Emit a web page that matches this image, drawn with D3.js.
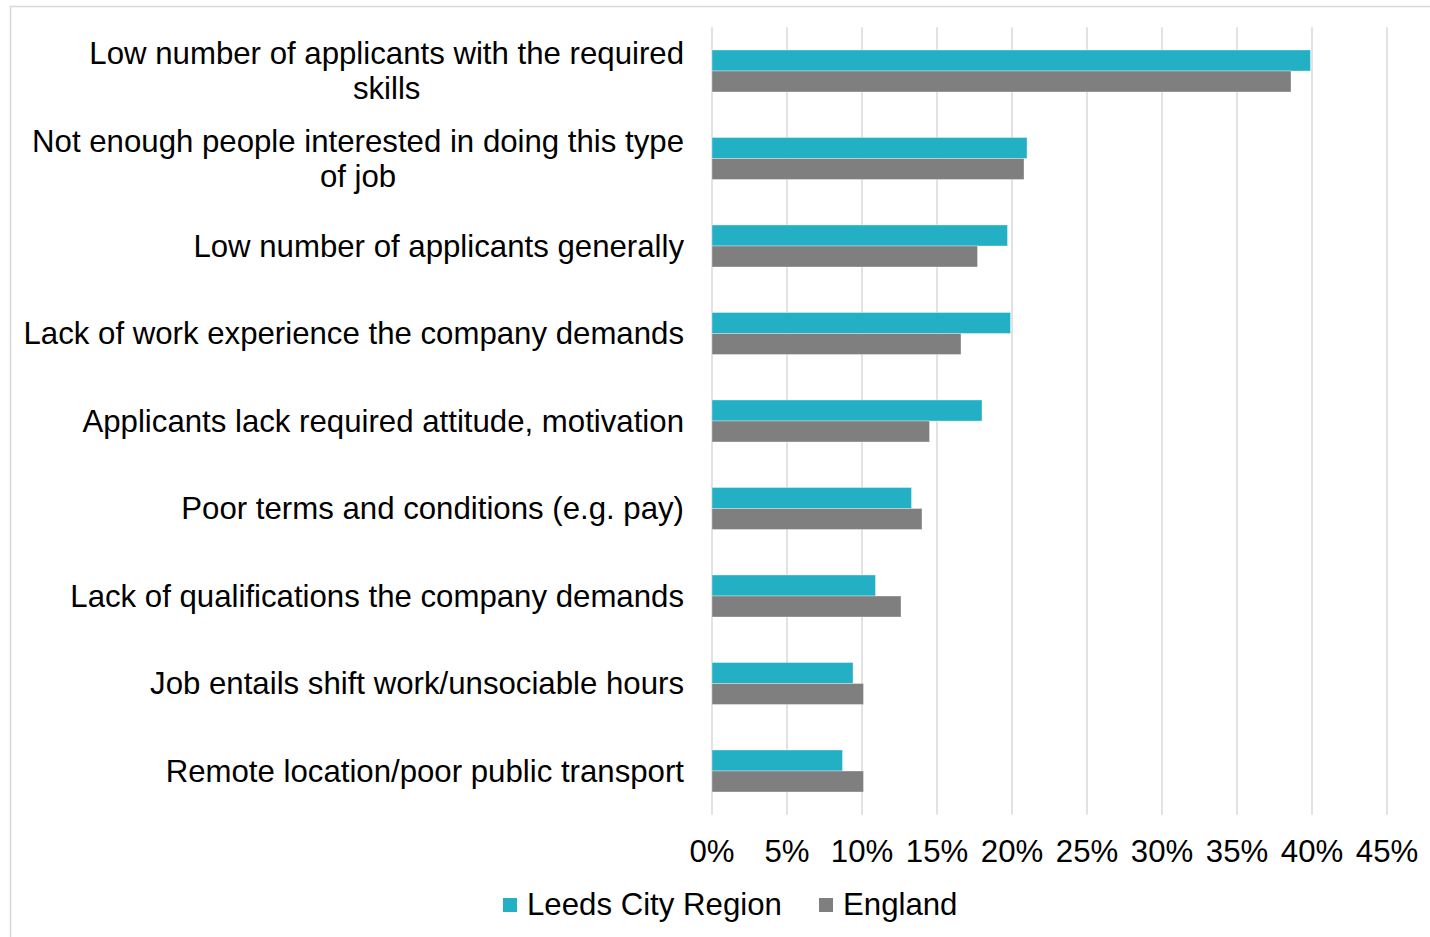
<!DOCTYPE html>
<html><head><meta charset="utf-8">
<script src="https://cdn.jsdelivr.net/npm/d3@7"></script>
<style>body{margin:0;background:#fff;} text{font-family:"Liberation Sans",Arial,sans-serif;}</style>
</head><body>
<svg id="c" width="1430" height="937"></svg>
<script>
const categories = [
  ["Low number of applicants with the required", "skills"],
  ["Not enough people interested in doing this type", "of job"],
  ["Low number of applicants generally"],
  ["Lack of work experience the company demands"],
  ["Applicants lack required attitude, motivation"],
  ["Poor terms and conditions (e.g. pay)"],
  ["Lack of qualifications the company demands"],
  ["Job entails shift work/unsociable hours"],
  ["Remote location/poor public transport"]
];
const seriesNames = ["Leeds City Region", "England"];
const leeds = [39.9, 21.0, 19.7, 19.9, 18.0, 13.3, 10.9, 9.4, 8.7];
const england = [38.6, 20.8, 17.7, 16.6, 14.5, 14.0, 12.6, 10.1, 10.1];
const ticks = [0, 5, 10, 15, 20, 25, 30, 35, 40, 45];
const colors = ["#23B0C5", "#7F7F7F"];

const FS = 31.2;
const svg = d3.select("#c");
svg.append("rect").attr("x",10.5).attr("y",6.5).attr("width",1440).attr("height",960)
  .attr("fill","#fff").attr("stroke","#d9d9d9").attr("stroke-width",1.5);

const x = d3.scaleLinear().domain([0,45]).range([712,1387]);
const y = d3.scaleBand().domain(d3.range(categories.length)).range([27.25,814.75]).paddingInner(0.52).paddingOuter(0.26);
const inner = d3.scaleBand().domain([0,1]).range([0,y.bandwidth()]);

// gridlines
svg.append("g").selectAll("line").data(ticks).join("line")
  .attr("x1",d=>x(d)).attr("x2",d=>x(d)).attr("y1",27.25).attr("y2",814.75)
  .attr("stroke","#d9d9d9").attr("stroke-width",1.5);

const series = [leeds, england];
series.forEach((vals, si) => {
  svg.append("g").selectAll("rect").data(vals).join("rect")
    .attr("x", x(0)).attr("y",(d,i)=>y(i)+inner(si))
    .attr("width",d=>x(d)-x(0)).attr("height",inner.bandwidth())
    .attr("fill",colors[si]).attr("stroke","rgba(255,255,255,0.35)").attr("stroke-width",1);
});

// category labels
const lab = svg.append("g");
const rightEdge = 684;
categories.forEach((lines,i)=>{
  const cy = y(i)+y.bandwidth()/2;
  const lh = 35;
  const t = lab.append("text").attr("font-size",FS).attr("fill","#000");
  const spans = lines.map((ln,j)=>t.append("tspan").attr("y", cy + (j-(lines.length-1)/2)*lh).attr("dy","0.35em").text(ln));
  if (lines.length === 1) {
    t.attr("text-anchor","end"); spans[0].attr("x", rightEdge);
  } else {
    const w = d3.max(spans, s=>s.node().getComputedTextLength());
    t.attr("text-anchor","middle"); spans.forEach(s=>s.attr("x", rightEdge - w/2));
  }
});

// tick labels
svg.append("g").selectAll("text").data(ticks).join("text")
  .attr("x",d=>x(d)).attr("y",862).attr("text-anchor","middle").attr("font-size",FS).attr("fill","#000")
  .text(d=>d+"%");

// legend
const legX = [503, 819];
seriesNames.forEach((n,i)=>{
  svg.append("rect").attr("x",legX[i]).attr("y",898).attr("width",14).attr("height",14).attr("fill",colors[i]);
  svg.append("text").attr("x",legX[i]+24).attr("y",915).attr("font-size",FS).attr("fill","#000").text(n);
});
</script>
</body></html>
